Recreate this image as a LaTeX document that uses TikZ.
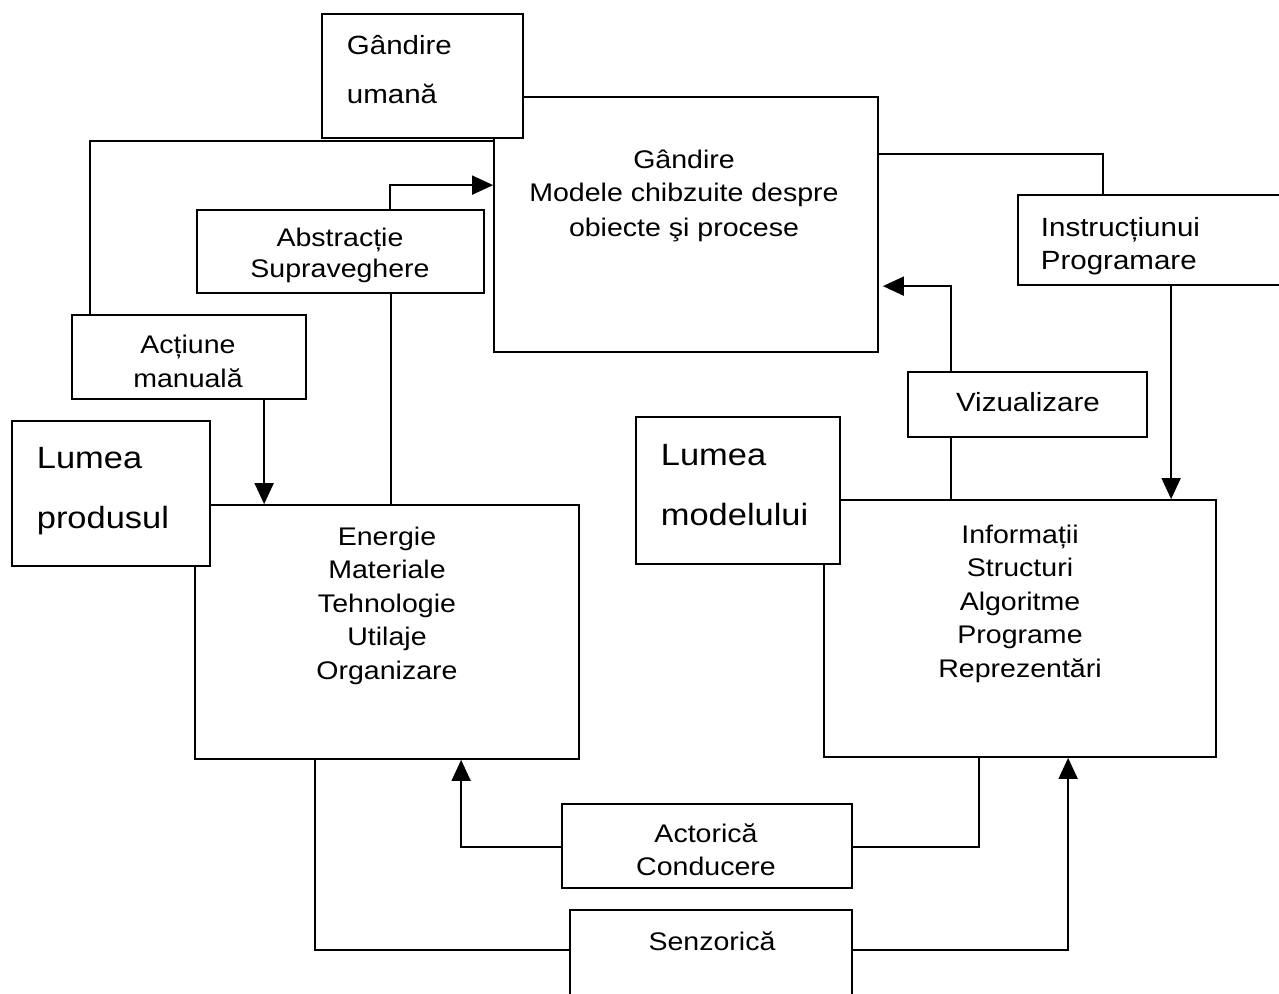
\documentclass[tikz,border=0pt]{standalone}
\usepackage{fontspec}
\setmainfont[FakeStretch=1.12]{Liberation Sans}
\usetikzlibrary{arrows.meta,calc,fit}

\begin{document}
\begin{tikzpicture}[x=0.02cm,y=-0.02cm,
  line width=1pt,
  boxst/.style={draw, fill=white, inner sep=0pt, line width=1pt},
  txt/.style={inner sep=0pt, anchor=base, font=\fontsize{14.5}{17}\selectfont},
  txtL/.style={txt, anchor=base west},
  big/.style={font=\fontsize{17.5}{20}\selectfont},
  mid/.style={font=\fontsize{15}{18}\selectfont},
  arr/.style={-{Triangle[length=0.42cm,width=0.38cm]}},
]
\useasboundingbox (0,0) rectangle (1279,994);
\fill[white] (0,0) rectangle (1279,994);
\clip (0,0) rectangle (1279,994);

% --- boxes (later ones lie on top of earlier ones) ---
\node[boxst, fit={(494,97) (878,352)}] (thinking) {};
\node[boxst, fit={(322,14) (523,138)}] (human) {};
\node[boxst, fit={(197,210) (484,293)}] (abstr) {};
\node[boxst, fit={(72,315) (306,399)}] (action) {};
\node[boxst, fit={(195,505) (579,759)}] (prod) {};
\node[boxst, fit={(12,421) (210,566)}] (lprod) {};
\node[boxst, fit={(824,500) (1216,757)}] (model) {};
\node[boxst, fit={(636,417) (840,564)}] (lmod) {};
\node[boxst, fit={(1018,195) (1300,285)}] (instr) {};
\node[boxst, fit={(908,372) (1147,437)}] (viz) {};
\node[boxst, fit={(562,804) (852,888)}] (act) {};
\node[boxst, fit={(570,910) (852,1010)}] (senz) {};

% --- texts ---
\node[txtL, mid] (hum1) at (346,54) {Gândire};
\node[txtL, mid] (hum2) at (346,103) {umană};

\node[txt] (th1) at (684,168) {Gândire};
\node[txt] (th2) at (684,201) {Modele chibzuite despre};
\node[txt] (th3) at (684,236) {obiecte şi procese};

\node[txt] (ab1) at (340,246) {Abstracție};
\node[txt] (ab2) at (340,277) {Supraveghere};

\node[txt] (ac1) at (188,353) {Acțiune};
\node[txt] (ac2) at (188,387) {manuală};

\node[txtL, big] (lp1) at (36,468) {Lumea};
\node[txtL, big] (lp2) at (36,528) {produsul};

\foreach \w [count=\i] in {Energie,Materiale,Tehnologie,Utilaje,Organizare}
  \node[txt] (pr\i) at (387,{545+33.5*(\i-1)}) {\w};

\node[txtL, big] (lm1) at (660,465) {Lumea};
\node[txtL, big] (lm2) at (660,525) {modelului};

\foreach \w [count=\i] in {Informații,Structuri,Algoritme,Programe,Reprezentări}
  \node[txt] (mo\i) at (1020,{543+33.5*(\i-1)}) {\w};

\node[txtL, mid] (in1) at (1040,236) {Instrucțiunui};
\node[txtL, mid] (in2) at (1040,269) {Programare};

\node[txt, mid] (vz1) at (1028,411) {Vizualizare};

\node[txt] (at1) at (706,842) {Actorică};
\node[txt] (at2) at (706,875) {Conducere};

\node[txt] (sz1) at (712,950) {Senzorică};

% --- connection points on the box borders ---
\coordinate (thL1) at ($(thinking.north west)+(0,45)$);
\coordinate (thL2) at ($(thinking.north west)+(0,89)$);
\coordinate (thR1) at ($(thinking.north east)+(0,58)$);
\coordinate (thR2) at ($(thinking.north east)+(4,190)$);
\coordinate (acT) at ($(action.north west)+(19,0)$);
\coordinate (acB) at ($(action.south west)+(193,0)$);
\coordinate (abT) at ($(abstr.north west)+(194,0)$);
\coordinate (abB) at ($(abstr.south west)+(195,0)$);
\coordinate (inT) at ($(instr.north west)+(86,0)$);
\coordinate (inB) at ($(instr.south west)+(154,0)$);
\coordinate (vzT) at ($(viz.north west)+(44,0)$);
\coordinate (vzB) at ($(viz.south west)+(44,0)$);
\coordinate (prB1) at ($(prod.south west)+(121,0)$);
\coordinate (prB2) at ($(prod.south west)+(267,0)$);
\coordinate (moB1) at ($(model.south west)+(245,0)$);
\coordinate (moB2) at ($(model.south west)+(156,0)$);
\coordinate (szL) at ($(senz.north west)+(0,41)$);
\coordinate (szR) at ($(senz.north east)+(0,41)$);
\coordinate (atL) at ($(act.north west)+(0,44)$);
\coordinate (atR) at ($(act.north east)+(0,44)$);

% --- connectors ---
\draw (thL1) -| (acT);
\draw[arr] (abT) |- (thL2);
\draw (abB) -- (abB |- prod.north);
\draw[arr] (acB) -- (acB |- prod.north);
\draw (thR1) -| (inT);
\draw[arr] (inB) -- (inB |- model.north);
\draw[arr] (vzT) |- (thR2);
\draw (vzB) -- (vzB |- model.north);
\draw (prB1) |- (szL);
\draw[arr] (szR) -| (moB1);
\draw[arr] (atL) -| (prB2);
\draw (atR) -| (moB2);
\end{tikzpicture}
\end{document}
